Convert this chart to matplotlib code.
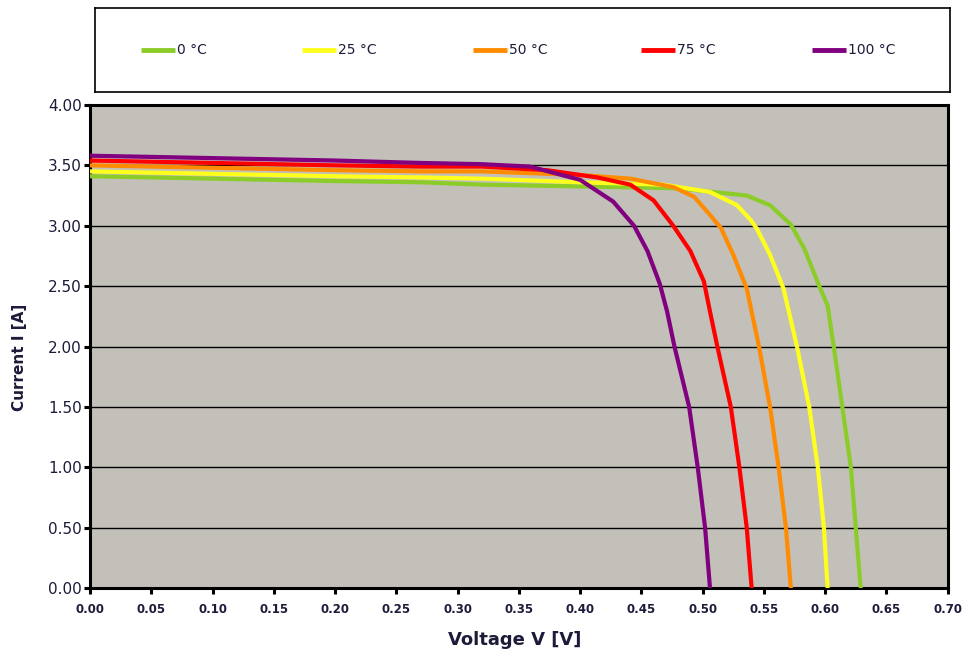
import matplotlib
matplotlib.use("Agg")
import matplotlib.pyplot as plt
from matplotlib.ticker import MultipleLocator, FormatStrFormatter

# I-V curves of a solar cell at different temperatures
labels = ["0 °C", "25 °C", "50 °C", "75 °C", "100 °C"]
colors = ["#8ccc28", "#ffff1e", "#ff8c00", "#ff0000", "#800080"]

v_0 = [0.00, 0.10, 0.20, 0.27, 0.32, 0.43, 0.48, 0.536, 0.555, 0.572, 0.583,
       0.596, 0.602, 0.607, 0.614, 0.621, 0.625, 0.629]
i_0 = [3.41, 3.39, 3.37, 3.36, 3.34, 3.32, 3.31, 3.25, 3.17, 3.01, 2.81,
       2.48, 2.34, 2.00, 1.50, 1.00, 0.50, 0.00]

v_25 = [0.00, 0.10, 0.20, 0.27, 0.32, 0.40, 0.468, 0.506, 0.528, 0.539, 0.544,
        0.555, 0.566, 0.577, 0.587, 0.594, 0.599, 0.602]
i_25 = [3.45, 3.43, 3.41, 3.40, 3.39, 3.36, 3.34, 3.28, 3.17, 3.05, 2.98,
        2.76, 2.48, 2.00, 1.50, 1.00, 0.50, 0.00]

v_50 = [0.00, 0.10, 0.20, 0.27, 0.32, 0.40, 0.441, 0.476, 0.493, 0.506, 0.515,
        0.525, 0.536, 0.546, 0.555, 0.562, 0.568, 0.572]
i_50 = [3.50, 3.48, 3.46, 3.45, 3.45, 3.42, 3.39, 3.32, 3.24, 3.09, 2.98,
        2.76, 2.48, 2.00, 1.50, 1.00, 0.50, 0.00]

v_75 = [0.00, 0.10, 0.20, 0.27, 0.32, 0.373, 0.414, 0.441, 0.460, 0.476, 0.490,
        0.501, 0.506, 0.512, 0.523, 0.530, 0.536, 0.540]
i_75 = [3.54, 3.52, 3.50, 3.49, 3.49, 3.46, 3.40, 3.34, 3.21, 3.00, 2.79,
        2.54, 2.29, 2.00, 1.50, 1.00, 0.50, 0.00]

v_100 = [0.00, 0.10, 0.20, 0.27, 0.319, 0.359, 0.400, 0.427, 0.444, 0.455, 0.465,
         0.471, 0.477, 0.489, 0.496, 0.502, 0.506]
i_100 = [3.58, 3.56, 3.54, 3.52, 3.51, 3.49, 3.38, 3.20, 3.00, 2.79, 2.52,
         2.29, 2.00, 1.50, 1.00, 0.50, 0.00]

voltages = [v_0, v_25, v_50, v_75, v_100]
currents = [i_0, i_25, i_50, i_75, i_100]

txt_col = "#1c1c3a"

fig = plt.figure(figsize=(9.68, 6.59), dpi=100)
ax = fig.add_axes([0.093, 0.1077, 0.886, 0.733])
ax.set_facecolor("#c3c0b9")

for v, i, c in zip(voltages, currents, colors):
    ax.plot(v, i, color=c, lw=3, solid_joinstyle="round", zorder=3)

ax.set_xlim(0, 0.70)
ax.set_ylim(0, 4.0)
ax.xaxis.set_major_locator(MultipleLocator(0.05))
ax.yaxis.set_major_locator(MultipleLocator(0.5))
ax.xaxis.set_major_formatter(FormatStrFormatter("%.2f"))
ax.yaxis.set_major_formatter(FormatStrFormatter("%.2f"))
ax.yaxis.grid(True, color="black", lw=1.0)
ax.set_axisbelow(True)

for s in ax.spines.values():
    s.set_linewidth(2.2)
    s.set_color("black")

ax.tick_params(axis="both", direction="out", length=4, width=2.2, color="black")
ax.tick_params(axis="x", labelsize=8.5, pad=7, labelcolor=txt_col)
ax.tick_params(axis="y", labelsize=11, pad=2, labelcolor=txt_col)
for t in ax.get_xticklabels():
    t.set_fontweight("bold")

ax.set_xlabel("Voltage V [V]", fontsize=13, fontweight="bold", color=txt_col, va="center")
ax.set_ylabel("Current I [A]", fontsize=11, fontweight="bold", color=txt_col, va="center")
ax.xaxis.set_label_coords(0.495, -0.108)
ax.yaxis.set_label_coords(-0.082, 0.478)

# legend in its own framed box above the plot
lax = fig.add_axes([0.098, 0.860, 0.883, 0.1275])
lax.set_xticks([])
lax.set_yticks([])
lax.set_xlim(0, 1)
lax.set_ylim(0, 1)
for s in lax.spines.values():
    s.set_linewidth(1.2)
    s.set_color("black")

leg_x = [0.054, 0.242, 0.442, 0.639, 0.839]
seg = 0.040
for x0, lab, c in zip(leg_x, labels, colors):
    lax.plot([x0, x0 + seg], [0.5, 0.5], color=c, lw=3.5, solid_capstyle="butt")
    lax.text(x0 + seg + 0.002, 0.5, lab, fontsize=10, color=txt_col,
             ha="left", va="center")

fig.savefig("out.png", dpi=100)
